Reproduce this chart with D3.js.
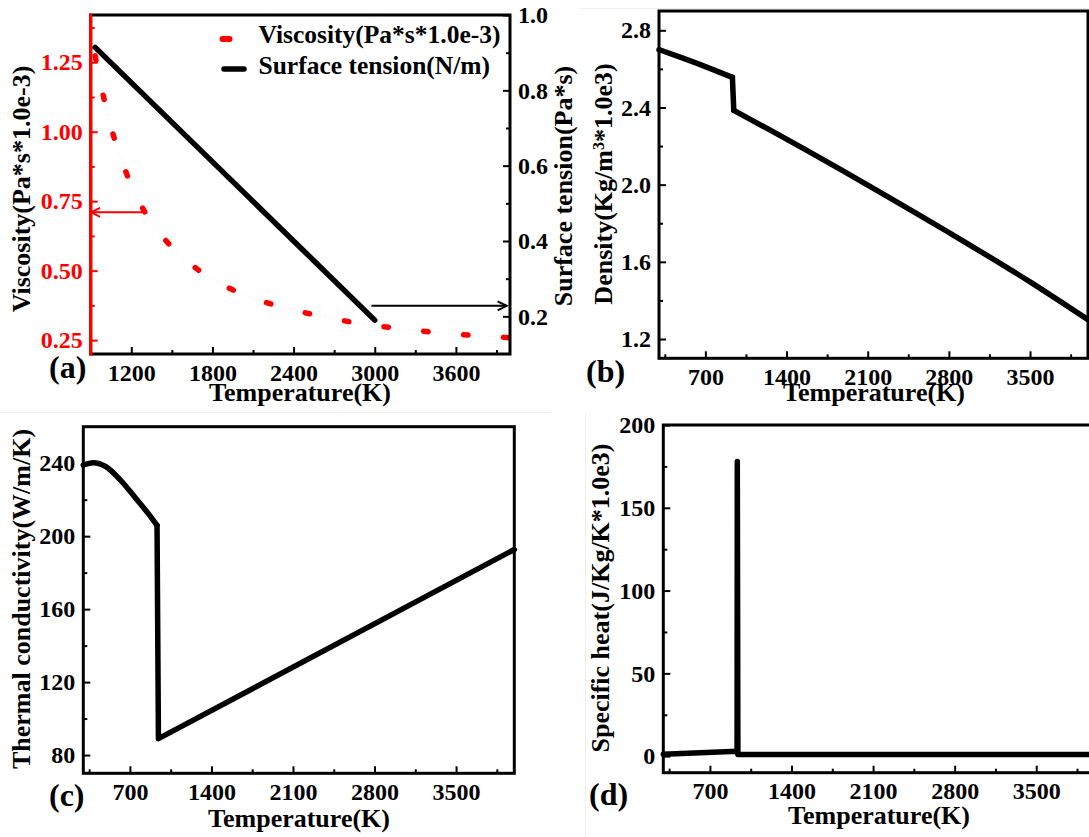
<!DOCTYPE html>
<html>
<head>
<meta charset="utf-8">
<script src="https://cdn.jsdelivr.net/npm/d3@7"></script>
<style>
  body { margin: 0; background: #fff; }
  svg text { font-family: "Liberation Serif", "Times New Roman", Times, serif; font-weight: bold; }
</style>
</head>
<body>
<svg id="fig" width="1089" height="837"></svg>
<script>
// ---------- data ----------
// (a) liquid viscosity (Pa*s*1.0e-3) and surface tension (N/m) vs temperature (K)
const viscTemp = [933, 999, 1073, 1171, 1299, 1480, 1697, 1954, 2234, 2526, 2813, 3105, 3401, 3694, 3974, 4000];
const viscosity = [1.273, 1.117, 0.978, 0.842, 0.712, 0.595, 0.502, 0.430, 0.380, 0.344, 0.316, 0.296, 0.280, 0.268, 0.259, 0.258];
const tensionTemp = [933, 3000];
const surfaceTension = [0.914, 0.190];

// (b) density (Kg/m^3*1.0e3): solid branch, drop at melting, liquid branch
const densityTempSolid = [300, 500, 700, 933];
const densitySolid = [2.700, 2.657, 2.612, 2.556];
const densityTempLiquid = [945, 1400, 2100, 2800, 3500, 4000];
const densityLiquid = [2.385, 2.236, 1.998, 1.752, 1.496, 1.300];

// (c) thermal conductivity (W/m/K): solid branch, then melt drop and liquid branch
const condTempSolid = [300, 386, 494, 617, 740, 863, 933];
const condSolid = [239.0, 240.3, 238.1, 230.8, 221.6, 211.9, 205.9];
const condTempLiquid = [933, 945, 4000];
const condLiquid = [205.9, 89.0, 192.7];

// (d) specific heat (J/Kg/K*1.0e3) with latent-heat spike at melting
const cpTemp = [300, 933, 935, 940, 4000];
const specificHeat = [1.2, 3.0, 178, 1.0, 1.0];

// axis ticks
const ticksXa = [1200, 1800, 2400, 3000, 3600];
const ticksXaMinor = [1500, 2100, 2700, 3300, 3900];
const ticksViscY = [0.25, 0.50, 0.75, 1.00, 1.25];
const ticksViscYMinor = [0.375, 0.625, 0.875, 1.125, 1.375];
const ticksTensionY = [0.2, 0.4, 0.6, 0.8, 1.0];
const ticksTensionYMinor = [0.3, 0.5, 0.7, 0.9];
const ticksX = [700, 1400, 2100, 2800, 3500];
const ticksXMinor = [350, 1050, 1750, 2450, 3150, 3850];
const ticksDensityY = [1.2, 1.6, 2.0, 2.4, 2.8];
const ticksDensityYMinor = [1.4, 1.8, 2.2, 2.6];
const ticksCondY = [80, 120, 160, 200, 240];
const ticksCondYMinor = [100, 140, 180, 220];
const ticksCpY = [0, 50, 100, 150, 200];
const ticksCpYMinor = [25, 75, 125, 175];

// annotation arrows: [from T, to T] at a fixed value
const arrowViscT = [1300, 903], arrowViscV = 0.71;
const arrowTensionT = [2975, 3975], arrowTensionV = 0.228;

// ---------- drawing ----------
const FONT = '"Liberation Serif", "Times New Roman", Times, serif';
const svg = d3.select("#fig");
const RED = "#ff0000";
svg.append("rect").attr("width", 1089).attr("height", 837).attr("fill", "#fff");

// faint edges of the assembled sub-figures
const faint = svg.append("g").attr("stroke", "#efefef").attr("stroke-width", 1);
faint.append("line").attr("x1", 0).attr("x2", 550).attr("y1", 412.5).attr("y2", 412.5);
faint.append("line").attr("x1", 585.5).attr("x2", 585.5).attr("y1", 413).attr("y2", 837);
faint.append("line").attr("x1", 580).attr("x2", 1089).attr("y1", 8.5).attr("y2", 8.5);

function panel(box, xDomain, yDomain) {
  return {
    box,
    x: d3.scaleLinear().domain(xDomain).range([box.left, box.right]),
    y: d3.scaleLinear().domain(yDomain).range([box.bottom, box.top])
  };
}

function styleAxis(g, color, size) {
  g.attr("font-family", FONT).attr("font-weight", "bold");
  g.select(".domain").remove();
  g.selectAll("line").attr("stroke", color).attr("stroke-width", 2);
  g.selectAll("text")
    .attr("fill", color)
    .style("font-size", size + "px")
    .style("font-family", FONT)
    .style("font-weight", "bold");
  return g;
}

function bottomAxis(p, major, minor) {
  const t = `translate(0,${p.box.bottom})`;
  styleAxis(svg.append("g").attr("transform", t)
    .call(d3.axisBottom(p.x).tickValues(major).tickSize(-7).tickPadding(9.5).tickFormat(d3.format("d"))), "#000", 24);
  styleAxis(svg.append("g").attr("transform", t)
    .call(d3.axisBottom(p.x).tickValues(minor).tickSize(-4).tickFormat("")), "#000", 24);
}

function leftAxis(p, scale, major, minor, fmt, color) {
  const t = `translate(${p.box.left},0)`;
  styleAxis(svg.append("g").attr("transform", t)
    .call(d3.axisLeft(scale).tickValues(major).tickSize(-7).tickPadding(8).tickFormat(fmt)), color, 24);
  styleAxis(svg.append("g").attr("transform", t)
    .call(d3.axisLeft(scale).tickValues(minor).tickSize(-4).tickFormat("")), color, 24);
}

function rightAxis(p, scale, major, minor, fmt, color) {
  const t = `translate(${p.box.right},0)`;
  styleAxis(svg.append("g").attr("transform", t)
    .call(d3.axisRight(scale).tickValues(major).tickSize(-7).tickPadding(8).tickFormat(fmt)), color, 24);
  styleAxis(svg.append("g").attr("transform", t)
    .call(d3.axisRight(scale).tickValues(minor).tickSize(-4).tickFormat("")), color, 24);
}

function frame(p, leftColor) {
  const b = p.box;
  svg.append("rect")
    .attr("x", b.left).attr("y", b.top)
    .attr("width", b.right - b.left).attr("height", b.bottom - b.top)
    .attr("fill", "none").attr("stroke", "#000").attr("stroke-width", 3);
  if (leftColor) {
    svg.append("line")
      .attr("x1", b.left).attr("x2", b.left).attr("y1", b.top - 1.5).attr("y2", b.bottom + 1.5)
      .attr("stroke", leftColor).attr("stroke-width", 3.2);
  }
}

function curve(p, xs, ys, yScale, curveType) {
  return d3.line()
    .x((d, i) => p.x(xs[i]))
    .y((d, i) => yScale(ys[i]))
    .curve(curveType || d3.curveLinear)(xs);
}

function dataPath(d, color, width) {
  return svg.append("path").attr("d", d).attr("fill", "none")
    .attr("stroke", color).attr("stroke-width", width || 5.5)
    .attr("stroke-linejoin", "round").attr("stroke-linecap", "round");
}

function text(x, y, str, size, opts = {}) {
  const t = svg.append("text").attr("x", x).attr("y", y)
    .style("font-size", size + "px")
    .style("font-family", FONT)
    .style("font-weight", "bold")
    .attr("fill", opts.fill || "#000")
    .attr("text-anchor", opts.anchor || "start")
    .text(str);
  if (opts.rotate) t.attr("transform", `rotate(${opts.rotate},${x},${y})`);
  return t;
}

// ----- panel (a) -----
const pa = panel({ left: 90.7, right: 510, top: 15, bottom: 354 }, [900, 4000], [0.2, 1.42]);
const yTension = d3.scaleLinear().domain([0.1, 1.0]).range([354, 15]);

const viscLine = curve(pa, viscTemp, viscosity, pa.y, d3.curveMonotoneX);
dataPath(viscLine, "#dcf2dc", 1).attr("stroke-dasharray", "1,4").attr("stroke-linecap", "butt");
dataPath(viscLine, RED, 5.5).attr("stroke-dasharray", "4.5,35.5");
dataPath(curve(pa, tensionTemp, surfaceTension, yTension), "#000", 5.5);

frame(pa, RED);
bottomAxis(pa, ticksXa, ticksXaMinor);
leftAxis(pa, pa.y, ticksViscY, ticksViscYMinor, d3.format(".2f"), RED);
rightAxis(pa, yTension, ticksTensionY, ticksTensionYMinor, d3.format(".1f"), "#000");

// arrows pointing at the axis each curve belongs to
function arrow(x1, x2, y, color) {
  const dir = Math.sign(x2 - x1);
  svg.append("line").attr("x1", x1).attr("x2", x2).attr("y1", y).attr("y2", y)
    .attr("stroke", color).attr("stroke-width", 2);
  svg.append("path")
    .attr("d", `M${x2 - dir * 9},${y - 4.5}L${x2},${y}L${x2 - dir * 9},${y + 4.5}`)
    .attr("fill", "none").attr("stroke", color).attr("stroke-width", 2);
}
arrow(pa.x(arrowViscT[0]), pa.x(arrowViscT[1]), pa.y(arrowViscV), RED);
arrow(pa.x(arrowTensionT[0]), pa.x(arrowTensionT[1]), yTension(arrowTensionV), "#000");

// legend
svg.append("line").attr("x1", 222.5).attr("x2", 229.5).attr("y1", 39).attr("y2", 39)
  .attr("stroke", RED).attr("stroke-width", 6).attr("stroke-linecap", "round");
svg.append("line").attr("x1", 224).attr("x2", 244).attr("y1", 69).attr("y2", 69)
  .attr("stroke", "#000").attr("stroke-width", 5.5).attr("stroke-linecap", "round");
text(258.5, 43, "Viscosity(Pa*s*1.0e-3)", 25.5);
text(258.5, 73.5, "Surface tension(N/m)", 25.5);

text(30, 189, "Viscosity(Pa*s*1.0e-3)", 26, { anchor: "middle", rotate: -90 });
text(572, 186, "Surface tension(Pa*s)", 26, { anchor: "middle", rotate: -90 });
text(300, 401, "Temperature(K)", 26, { anchor: "middle" });
text(49, 378, "(a)", 32);

// ----- panel (b) -----
const pb = panel({ left: 659, right: 1088, top: 11, bottom: 358.3 }, [300, 4000], [1.1, 2.9]);
const nS = densityTempSolid.length - 1;
dataPath(curve(pb, densityTempSolid, densitySolid, pb.y, d3.curveMonotoneX), "#000", 5.5);
dataPath(curve(pb, [densityTempSolid[nS], densityTempLiquid[0]], [densitySolid[nS], densityLiquid[0]], pb.y), "#000", 5.5);
dataPath(curve(pb, densityTempLiquid, densityLiquid, pb.y, d3.curveMonotoneX), "#000", 5.5);
frame(pb);
bottomAxis(pb, ticksX, ticksXMinor);
leftAxis(pb, pb.y, ticksDensityY, ticksDensityYMinor, d3.format(".1f"), "#000");

const dl = text(612, 184, "Density(Kg/m", 26, { anchor: "middle", rotate: -90 });
dl.append("tspan").attr("baseline-shift", "super").style("font-size", "16px").text("3");
dl.append("tspan").text("*1.0e3)");
text(874, 401, "Temperature(K)", 26, { anchor: "middle" });
text(586, 382, "(b)", 32);

// ----- panel (c) -----
const pc = panel({ left: 83.3, right: 514.3, top: 426.7, bottom: 773.3 }, [300, 4000], [70, 260]);
dataPath(curve(pc, condTempSolid, condSolid, pc.y, d3.curveMonotoneX), "#000", 5.5);
dataPath(curve(pc, condTempLiquid, condLiquid, pc.y), "#000", 5.5);
frame(pc);
bottomAxis(pc, ticksX, ticksXMinor);
leftAxis(pc, pc.y, ticksCondY, ticksCondYMinor, d3.format("d"), "#000");

text(30, 599, "Thermal conductivity(W/m/K)", 26, { anchor: "middle", rotate: -90 });
text(299, 827, "Temperature(K)", 26, { anchor: "middle" });
text(49, 806, "(c)", 32);

// ----- panel (d) -----
const pd = panel({ left: 663.3, right: 1094.5, top: 425, bottom: 772.7 }, [300, 4000], [-10, 200]);
dataPath(curve(pd, cpTemp, specificHeat, pd.y), "#000", 5.5);
frame(pd);
bottomAxis(pd, ticksX, ticksXMinor);
leftAxis(pd, pd.y, ticksCpY, ticksCpYMinor, d3.format("d"), "#000");

text(609, 598, "Specific heat(J/Kg/K*1.0e3)", 26, { anchor: "middle", rotate: -90 });
text(879, 824, "Temperature(K)", 26, { anchor: "middle" });
text(589, 805, "(d)", 32);
</script>
</body>
</html>
